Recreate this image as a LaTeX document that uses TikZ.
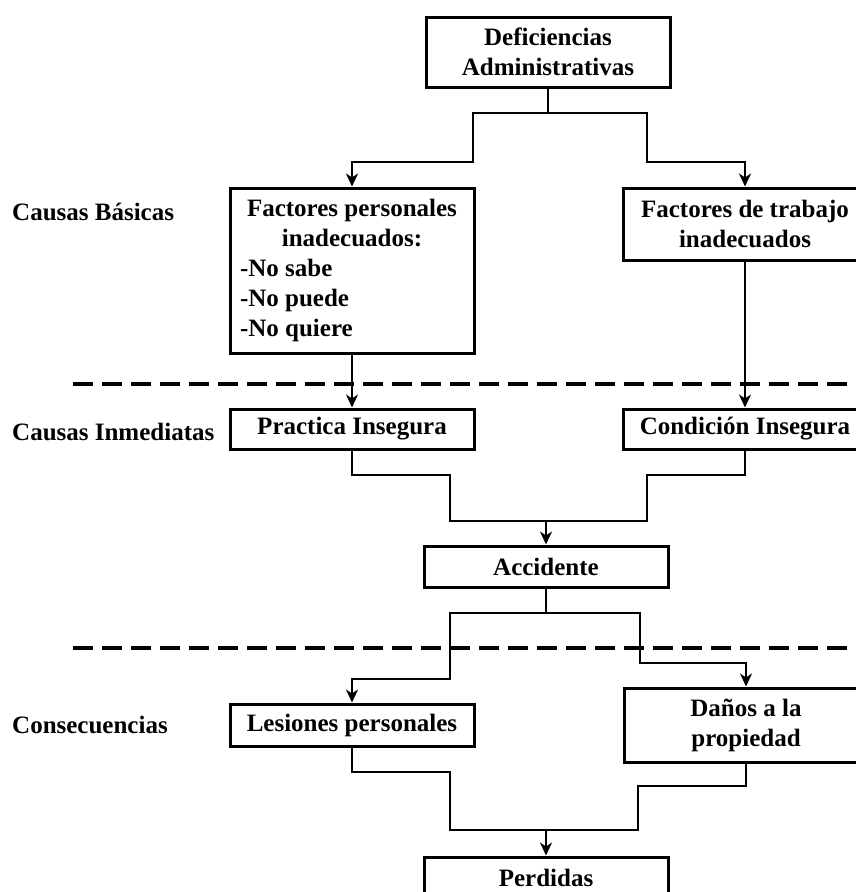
\documentclass[tikz,border=0pt]{standalone}
\usepackage{fontspec}
\setmainfont{Liberation Serif}
\usetikzlibrary{arrows.meta}
\begin{document}
\begin{tikzpicture}[x=1pt,y=-1pt,
  every node/.style={font=\fontsize{25}{30}\selectfont\bfseries, inner sep=0pt},
  box/.style={draw, line width=3pt, minimum width=244pt, align=center, fill=white},
  lbl/.style={anchor=west},
  conn/.style={line width=2.8pt},
  arr/.style={conn, -{Stealth[length=13pt,width=12pt,inset=4pt]}},
  sep/.style={line width=3.2pt, dash pattern=on 20pt off 9pt}]
\clip (0,0) rectangle (856,892);
\fill[white] (0,0) rectangle (856,892);

% level separators
\draw[sep] (73,384) -- (880,384);
\draw[sep] (73,648) -- (880,648);

% row labels
\node[lbl] (l1) at (12,212) {Causas Básicas};
\node[lbl] (l2) at (12,432) {Causas Inmediatas};
\node[lbl] (l3) at (12,725) {Consecuencias};

% boxes
\node[box, minimum height=70pt] (def) at (548,52) {Deficiencias\\Administrativas};
\node[box, minimum height=165pt] (fp) at (352,270.5)
  {\begin{tabular}{@{}l@{}}
   \multicolumn{1}{@{\hspace{7pt}}c@{\hspace{7pt}}}{Factores personales}\\
   \multicolumn{1}{@{\hspace{7pt}}c@{\hspace{7pt}}}{inadecuados:}\\
   -No sabe\\ -No puede\\ -No quiere
   \end{tabular}};
\node[box, minimum height=72pt] (ft) at (745,224) {Factores de trabajo\\inadecuados};
\node[box, minimum height=40pt] (pi) at (352,429) {Practica Insegura};
\node[box, minimum height=40pt] (ci) at (745,429) {Condición Insegura};
\node[box, minimum height=41pt] (acc) at (546,566.5) {Accidente};
\node[box, minimum height=42pt] (les) at (352,725) {Lesiones personales};
\node[box, minimum height=74pt] (dan) at (746,725) {Daños a la\\propiedad};
\node[box, minimum height=42pt] (per) at (546,878) {Perdidas};

% junction points
\coordinate (b1) at (548,113);
\coordinate (j1) at (546,521);
\coordinate (b2) at (546,613);
\coordinate (j2) at (546,830);

% connectors
\draw[conn] (def.south) -- (b1);
\draw[arr] (b1) -- (473,113) -- (473,162) -| (fp.north);
\draw[arr] (b1) -- (647,113) -- (647,162) -| (ft.north);
\draw[arr] (fp.south) -- (pi.north);
\draw[arr] (ft.south) -- (ci.north);
\draw[conn] (pi.south) -- (352,475) -- (450,475) -- (450,521) -- (j1);
\draw[conn] (ci.south) -- (745,475) -- (647,475) -- (647,521) -- (j1);
\draw[arr] (j1) -- (acc.north);
\draw[conn] (acc.south) -- (b2);
\draw[arr] (b2) -- (450,613) -- (450,679) -| (les.north);
\draw[arr] (b2) -- (640,613) -- (640,663) -| (dan.north);
\draw[conn] (les.south) -- (352,772) -- (450,772) -- (450,830) -- (j2);
\draw[conn] (dan.south) -- (746,786) -- (638,786) -- (638,830) -- (j2);
\draw[arr] (j2) -- (per.north);
\end{tikzpicture}
\end{document}
